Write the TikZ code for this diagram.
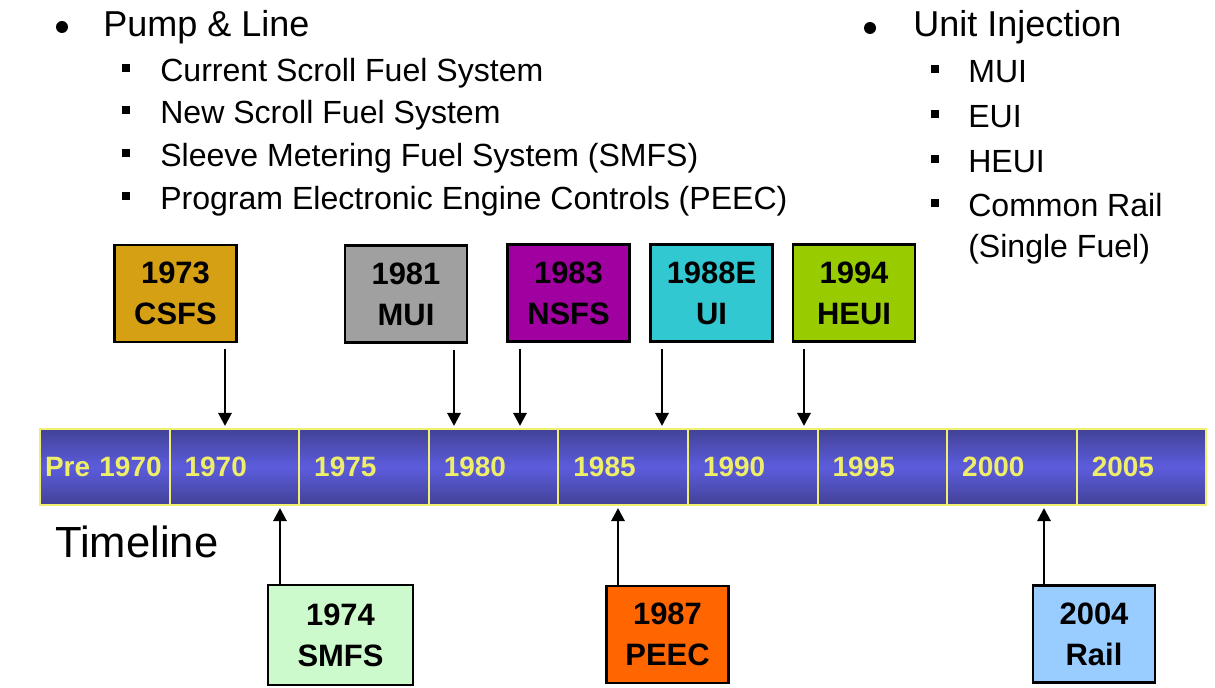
\documentclass[tikz,border=0pt]{standalone}
\usepackage{fontspec}
\setmainfont{Liberation Sans}
\usepackage{tikz}
\usetikzlibrary{arrows.meta,positioning}
\newlength\px
\setlength\px{0.025cm}
\definecolor{csfsgold}{RGB}{214,160,20}
\definecolor{muigray}{RGB}{160,160,160}
\definecolor{nsfspurple}{RGB}{160,0,160}
\definecolor{euicyan}{RGB}{50,200,210}
\definecolor{heuigreen}{RGB}{153,204,0}
\definecolor{smfsgreen}{RGB}{204,250,204}
\definecolor{peecorange}{RGB}{255,102,0}
\definecolor{railblue}{RGB}{153,204,255}
\definecolor{baredge}{RGB}{66,66,150}
\definecolor{barmid}{RGB}{92,92,222}
\definecolor{barline}{RGB}{240,240,110}
\definecolor{baryellow}{RGB}{238,238,105}

\begin{document}
\begin{tikzpicture}[
  x=0.025cm, y=-0.025cm,
  evt/.style={rectangle, draw=black, line width=2.5\px, minimum width=122\px, minimum height=97\px, inner sep=0pt, font=\fontsize{22}{29.2}\selectfont\bfseries, align=center},
  cell/.style={rectangle, draw=barline, line width=2\px, top color=baredge, bottom color=baredge, middle color=barmid, minimum height=76\px, inner xsep=15\px, text width=99.6\px, align=left, outer sep=0pt, anchor=west, font=\fontsize{19.9}{24}\selectfont\bfseries, text=baryellow},
  arr/.style={-{Triangle[width=0.325cm,length=0.325cm]}, line width=0.07cm},
  head/.style={font=\fontsize{25.6}{30}\selectfont, anchor=base west, inner sep=0pt},
  item/.style={font=\fontsize{22.8}{29.2}\selectfont, anchor=base west, inner sep=0pt, align=left},
  dot/.style={circle, fill=black, inner sep=0pt, minimum size=12\px},
  sqr/.style={rectangle, fill=black, inner sep=0pt, minimum size=8\px}
]
  \useasboundingbox (0,0) rectangle (1215,688);

  % bullet lists
  \node[dot] (pumpdot) at (62,27) {};
  \node[head] (pump) at (103,37) {Pump \& Line};
  \foreach \y/\txt [count=\i] in {82/Current Scroll Fuel System, 124/New Scroll Fuel System, 167/Sleeve Metering Fuel System (SMFS), 210/Program Electronic Engine Controls (PEEC)} {
    \node[sqr] (pumpsq\i) at (126,\y-14) {};
    \node[item] (pumpitem\i) at (160,\y) {\txt};
  }
  \node[dot] (unitdot) at (870,28) {};
  \node[head] (unit) at (913,37) {Unit Injection};
  \foreach \y/\txt [count=\i] in {83/MUI, 128/EUI, 173/HEUI} {
    \node[sqr] (unitsq\i) at (935,\y-14) {};
    \node[item] (unititem\i) at (968,\y) {\txt};
  }
  \node[sqr] (unitsq4) at (935,203) {};
  \node[item] (unititem4) at (968,258) {Common Rail\\(Single Fuel)};

  % timeline bar
  \node[cell, inner xsep=5\px, text width=119.6\px] (cell1) at (40,467) {Pre 1970};
  \foreach \x/\lbl [count=\i from 2] in {169.6/1970, 299.2/1975, 428.8/1980, 558.4/1985, 688/1990, 817.6/1995, 947.2/2000, 1076.8/2005}
    \node[cell] (cell\i) at (\x,467) {\lbl};
  \node[font=\fontsize{31}{36}\selectfont, anchor=base west, inner sep=0pt] (timeline) at (55,557) {Timeline};

  % events above
  \node[evt, fill=csfsgold] (csfs) at (175.5,293.5) {1973\\CSFS};
  \node[evt, fill=muigray] (mui) at (406,294) {1981\\MUI};
  \node[evt, fill=nsfspurple] (nsfs) at (568.5,293) {1983\\NSFS};
  \node[evt, fill=euicyan] (eui) at (711.5,293) {1988E\\UI};
  \node[evt, fill=heuigreen] (heui) at (854,293) {1994\\HEUI};

  % events below
  \node[evt, fill=smfsgreen, minimum width=145\px, minimum height=100\px] (smfs) at (340.5,635) {1974\\SMFS};
  \node[evt, fill=peecorange] (peec) at (667.5,634.5) {1987\\PEEC};
  \node[evt, fill=railblue] (rail) at (1094,634) {2004\\Rail};

  % marks on the bar
  \coordinate (t1973) at (225,429);
  \coordinate (t1981) at (454,429);
  \coordinate (t1983) at (520,429);
  \coordinate (t1988) at (662,429);
  \coordinate (t1994) at (804,429);
  \coordinate (b1974) at (280,505);
  \coordinate (b1987) at (618,505);
  \coordinate (b2004) at (1044,505);

  \draw[arr, shorten <=0.15cm, shorten >=0.075cm] (csfs.south -| t1973) -- (t1973);
  \draw[arr, shorten <=0.15cm, shorten >=0.075cm] (mui.south -| t1981) -- (t1981);
  \draw[arr, shorten <=0.15cm, shorten >=0.075cm] (nsfs.south -| t1983) -- (t1983);
  \draw[arr, shorten <=0.15cm, shorten >=0.075cm] (eui.south -| t1988) -- (t1988);
  \draw[arr, shorten <=0.15cm, shorten >=0.075cm] (heui.south -| t1994) -- (t1994);
  \draw[arr, shorten >=0.075cm] (smfs.north -| b1974) -- (b1974);
  \draw[arr, shorten >=0.075cm] (peec.north -| b1987) -- (b1987);
  \draw[arr, shorten >=0.075cm] (rail.north -| b2004) -- (b2004);
\end{tikzpicture}
\end{document}
